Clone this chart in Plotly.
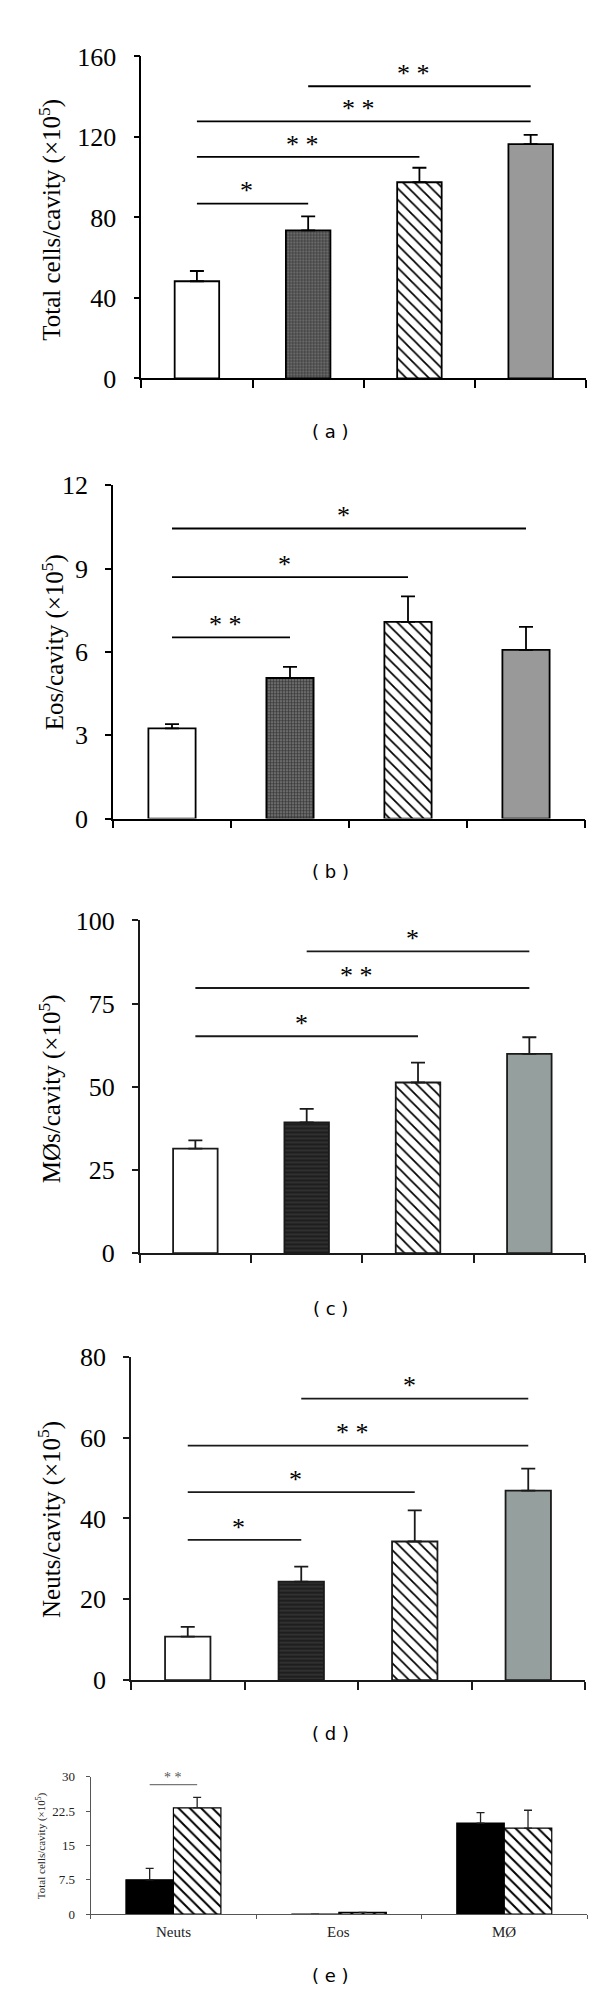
import plotly.graph_objects as go

# ---------------- data ----------------
groups = [0, 1, 2, 3]

a_vals = [48.3, 73.6, 97.5, 116.4]
a_err = [5.1, 6.9, 7.2, 4.6]
b_vals = [3.25, 5.06, 7.08, 6.07]
b_err = [0.15, 0.40, 0.92, 0.83]
c_vals = [31.4, 39.3, 51.3, 59.9]
c_err = [2.5, 4.1, 6.0, 5.0]
d_vals = [10.8, 24.4, 34.3, 46.9]
d_err = [2.4, 3.7, 7.7, 5.4]

e_cats = ["Neuts", "Eos", "MØ"]
e_black = [7.5, 0.0, 19.9]
e_black_err = [2.5, 0.0, 2.3]
e_hatch = [23.2, 0.4, 18.8]
e_hatch_err = [2.3, 0.0, 3.9]

a_ticks = [0, 40, 80, 120, 160]
b_ticks = [0, 3, 6, 9, 12]
c_ticks = [0, 25, 50, 75, 100]
d_ticks = [0, 20, 40, 60, 80]
e_ticks = [0, 7.5, 15, 22.5, 30]
e_tick_text = ["0", "7.5", "15", "22.5", "30"]

# significance brackets: (from group, to group, height, label)
a_sig = [(0, 1, 86.9, "*"), (0, 2, 110.1, "* *"), (0, 3, 127.8, "* *"), (1, 3, 145.2, "* *")]
b_sig = [(0, 1, 6.52, "* *"), (0, 2, 8.69, "*"), (0, 3, 10.44, "*")]
c_sig = [(0, 2, 65.2, "*"), (0, 3, 79.7, "* *"), (1, 3, 90.7, "*")]
d_sig = [(0, 1, 34.7, "*"), (0, 2, 46.5, "*"), (0, 3, 58.0, "* *"), (1, 3, 69.6, "*")]
e_sig = [(28.3, "* *")]

titles = [
    "Total cells/cavity (×10<sup>5</sup>)",
    "Eos/cavity (×10<sup>5</sup>)",
    "MØs/cavity (×10<sup>5</sup>)",
    "Neuts/cavity (×10<sup>5</sup>)",
    "Total cells/cavity (×10<sup>5</sup>)",
]
panel_labels = ["( a )", "( b )", "( c )", "( d )", "( e )"]

# ---------------- layout helpers ----------------
W, H = 600, 1998
SERIF = "Liberation Serif, Times New Roman, serif"


def px(x):
    return x / W


def py(y):
    return 1 - y / H


fig = go.Figure()
shapes = []
annotations = []

panels = [
    dict(vals=a_vals, err=a_err, ticks=a_ticks, sig=a_sig, xd=(133.3, 578.3), yd=(35, 361.7),
         style="ab", title_xy=(41.7, 201), label_y=416),
    dict(vals=b_vals, err=b_err, ticks=b_ticks, sig=b_sig, xd=(105, 577), yd=(470, 808.3),
         style="ab", title_xy=(45.5, 630), label_y=862),
    dict(vals=c_vals, err=c_err, ticks=c_ticks, sig=c_sig, xd=(131.7, 577), yd=(911.7, 1249.3),
         style="cd", title_xy=(42, 1083), label_y=1305),
    dict(vals=d_vals, err=d_err, ticks=d_ticks, sig=d_sig, xd=(123, 577), yd=(1354.3, 1682.7),
         style="cd", title_xy=(42, 1520), label_y=1737),
]

STYLES = {
    "ab": [
        dict(color="white"),
        dict(color="#555555", pattern=dict(shape="+", fgcolor="#333333", bgcolor="#6a6a6a",
                                            size=3, solidity=0.35, fillmode="replace")),
        dict(color="white", pattern=dict(shape="\\", fgcolor="black", bgcolor="white",
                                          size=8, solidity=0.22, fillmode="replace")),
        dict(color="#999999"),
    ],
    "cd": [
        dict(color="white"),
        dict(color="#222222", pattern=dict(shape="-", fgcolor="#3c3c3c", bgcolor="#1e1e1e",
                                            size=4, solidity=0.3, fillmode="replace")),
        dict(color="white", pattern=dict(shape="\\", fgcolor="black", bgcolor="white",
                                          size=8, solidity=0.22, fillmode="replace")),
        dict(color="#95a09e"),
    ],
}

BAR_W = 0.4
layout_axes = {}

for k, p in enumerate(panels, start=1):
    sfx = "" if k == 1 else str(k)
    xname, yname = "x" + sfx, "y" + sfx
    lc = "black" if p["style"] == "ab" else "#1a1a1a"
    for g in groups:
        mk = dict(STYLES[p["style"]][g])
        mk["line"] = dict(color=lc, width=1.8)
        fig.add_trace(go.Bar(
            x=[g], y=[p["vals"][g]], width=BAR_W, xaxis=xname, yaxis=yname, marker=mk,
            error_y=dict(type="data", array=[p["err"][g]], arrayminus=[0], symmetric=False,
                         color=lc, thickness=1.8, width=7),
            showlegend=False,
        ))
    ymax = p["ticks"][-1]
    layout_axes["xaxis" + sfx] = dict(
        domain=[px(p["xd"][0]), px(p["xd"][1])], anchor=yname, range=[-0.5, 3.5],
        tickvals=[-0.5, 0.5, 1.5, 2.5, 3.5], ticks="outside", ticklen=8, tickwidth=1.5,
        tickcolor=lc, showticklabels=False, showline=True, linecolor=lc, linewidth=1.5,
        showgrid=False, zeroline=False, fixedrange=True)
    layout_axes["yaxis" + sfx] = dict(
        domain=[py(p["yd"][1]), py(p["yd"][0])], anchor=xname, range=[0, ymax],
        tickvals=p["ticks"], ticktext=[str(t) for t in p["ticks"]], ticks="outside",
        ticklen=6, tickwidth=1.5, tickcolor=lc, showline=True, linecolor=lc, linewidth=1.5,
        showgrid=False, zeroline=False, ticklabelstandoff=12,
        tickfont=dict(family=SERIF, size=26, color="black"), fixedrange=True)
    hpx = p["yd"][1] - p["yd"][0]
    off = 13 * ymax / hpx
    for (i, j, yv, lab) in p["sig"]:
        shapes.append(dict(type="line", xref=xname, yref=yname, x0=i, x1=j, y0=yv, y1=yv,
                           line=dict(color=lc, width=1.8)))
        annotations.append(dict(xref=xname, yref=yname, x=(i + j) / 2 - 0.05, y=yv + off,
                                text=lab, showarrow=False, yanchor="middle",
                                font=dict(family=SERIF, size=26, color="black")))
    tx, ty = p["title_xy"]
    annotations.append(dict(xref="paper", yref="paper", x=px(tx), y=py(ty), text=titles[k - 1],
                            textangle=-90, showarrow=False, xanchor="center", yanchor="middle",
                            font=dict(family=SERIF, size=25, color="black")))
    annotations.append(dict(xref="paper", yref="paper", x=px(322), y=py(p["label_y"]),
                            text=panel_labels[k - 1], showarrow=False, xanchor="center",
                            yanchor="middle", font=dict(family="DejaVu Sans", size=18, color="black")))

# ---------------- panel e ----------------
E_W = 0.287
ecat_x = [0, 1, 2]
fig.add_trace(go.Bar(
    x=ecat_x, y=e_black, width=E_W, offset=-E_W, xaxis="x5", yaxis="y5",
    marker=dict(color="black", line=dict(color="black", width=1.2)),
    error_y=dict(type="data", array=e_black_err, arrayminus=[0] * 3, symmetric=False,
                 color="#222", thickness=1.3, width=4),
    showlegend=False))
fig.add_trace(go.Bar(
    x=ecat_x, y=e_hatch, width=E_W, offset=0, xaxis="x5", yaxis="y5",
    marker=dict(color="white", line=dict(color="black", width=1.2),
                pattern=dict(shape="\\", fgcolor="black", bgcolor="white", size=8,
                             solidity=0.25, fillmode="replace")),
    error_y=dict(type="data", array=e_hatch_err, arrayminus=[0] * 3, symmetric=False,
                 color="#222", thickness=1.3, width=4),
    showlegend=False))

ec = "#555555"
layout_axes["xaxis5"] = dict(
    domain=[px(82.7), px(579)], anchor="y5", range=[-0.5, 2.5],
    tickvals=[-0.5, 0.5, 1.5, 2.5], ticks="outside", ticklen=4, tickwidth=1.2, tickcolor=ec,
    showticklabels=False, showline=True, linecolor=ec, linewidth=1.2, showgrid=False,
    zeroline=False, fixedrange=True)
layout_axes["yaxis5"] = dict(
    domain=[py(1920), py(1780.7)], anchor="x5", range=[0, 30], tickvals=e_ticks,
    ticktext=e_tick_text, ticks="outside", ticklen=4, tickwidth=1.2, tickcolor=ec,
    showline=True, linecolor=ec, linewidth=1.2, showgrid=False, zeroline=False,
    ticklabelstandoff=8, tickfont=dict(family=SERIF, size=13, color="#222"), fixedrange=True)

for (yv, lab) in e_sig:
    shapes.append(dict(type="line", xref="x5", yref="y5", x0=-E_W / 2, x1=E_W / 2, y0=yv, y1=yv,
                       line=dict(color="#777777", width=1.3)))
    annotations.append(dict(xref="x5", yref="y5", x=0, y=yv + 1.6, text=lab, showarrow=False,
                            yanchor="middle", font=dict(family=SERIF, size=14, color="#555")))
for i, c in enumerate(e_cats):
    annotations.append(dict(xref="x5", yref="paper", x=ecat_x[i], y=py(1938), text=c,
                            showarrow=False, yanchor="middle",
                            font=dict(family=SERIF, size=15, color="#222")))
annotations.append(dict(xref="paper", yref="paper", x=px(33), y=py(1851), text=titles[4],
                        textangle=-90, showarrow=False, xanchor="center", yanchor="middle",
                        font=dict(family=SERIF, size=11, color="#222")))
annotations.append(dict(xref="paper", yref="paper", x=px(322), y=py(1982), text=panel_labels[4],
                        showarrow=False, xanchor="center", yanchor="middle",
                        font=dict(family="DejaVu Sans", size=18, color="black")))

fig.update_layout(
    width=W, height=H, margin=dict(l=0, r=0, t=0, b=0),
    paper_bgcolor="white", plot_bgcolor="white", barmode="overlay",
    shapes=shapes, annotations=annotations, **layout_axes)

fig.write_html("out.html")
